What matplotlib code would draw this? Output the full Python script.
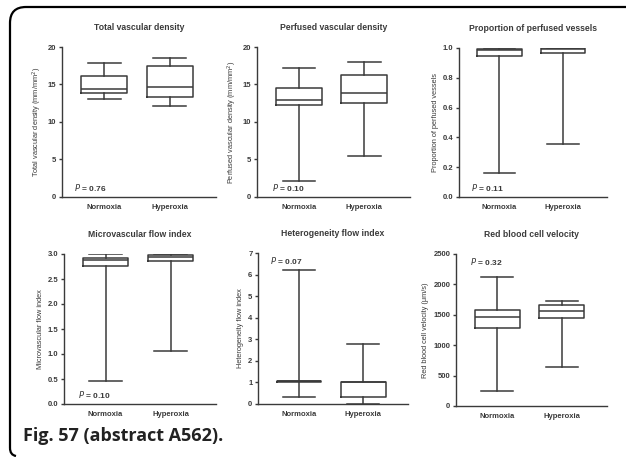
import matplotlib
matplotlib.use("Agg")
import matplotlib.pyplot as plt
from matplotlib.path import Path
from matplotlib.patches import PathPatch

W, H = 626, 457
groups = ["Normoxia", "Hyperoxia"]

# box stats per panel: (whislo, q1, med, q3, whishi) for Normoxia, Hyperoxia
tvd_norm = [13.1, 13.9, 14.4, 16.1, 17.8]
tvd_hyp = [12.15, 13.3, 14.6, 17.5, 18.5]
pvd_norm = [2.1, 12.3, 12.95, 14.5, 17.2]
pvd_hyp = [5.4, 12.5, 13.9, 16.2, 18.05]
ppv_norm = [0.16, 0.945, 0.985, 0.99, 1.0]
ppv_hyp = [0.355, 0.968, 0.99, 0.998, 1.0]
mfi_norm = [0.47, 2.76, 2.89, 2.93, 3.0]
mfi_hyp = [1.07, 2.87, 2.95, 2.99, 3.0]
hfi_norm = [0.31, 1.04, 1.05, 1.06, 6.2]
hfi_hyp = [0.0, 0.33, 1.0, 1.0, 2.8]
rbc_norm = [240, 1290, 1470, 1575, 2115]
rbc_hyp = [634, 1443, 1564, 1663, 1735]

titles = ["Total vascular density", "Perfused vascular density", "Proportion of perfused vessels",
          "Microvascular flow index", "Heterogeneity flow index", "Red blood cell velocity"]
ylabels = ["Total vascular density (mm/mm$^{2}$)", "Perfused vascular density (mm/mm$^{2}$)",
           "Proportion of perfused vessels", "Microvascular flow index",
           "Heterogeneity flow index", "Red blood cell velocity (\u03bcm/s)"]
pvals = ["0.76", "0.10", "0.11", "0.10", "0.07", "0.32"]
yticks = [[0, 5, 10, 15, 20], [0, 5, 10, 15, 20], [0.0, 0.2, 0.4, 0.6, 0.8, 1.0],
          [0.0, 0.5, 1.0, 1.5, 2.0, 2.5, 3.0], [0, 1, 2, 3, 4, 5, 6, 7],
          [0, 500, 1000, 1500, 2000, 2500]]
yticklabels = [["0", "5", "10", "15", "20"], ["0", "5", "10", "15", "20"],
               ["0.0", "0.2", "0.4", "0.6", "0.8", "1.0"],
               ["0.0", "0.5", "1.0", "1.5", "2.0", "2.5", "3.0"],
               ["0", "1", "2", "3", "4", "5", "6", "7"],
               ["0", "500", "1000", "1500", "2000", "2500"]]
stats = [(tvd_norm, tvd_hyp), (pvd_norm, pvd_hyp), (ppv_norm, ppv_hyp),
         (mfi_norm, mfi_hyp), (hfi_norm, hfi_hyp), (rbc_norm, rbc_hyp)]

# axes rectangles in pixels: left, right, top, bottom
rects = [(62, 216, 47, 197), (257, 410, 47, 197), (459, 607, 48, 197),
         (64, 216, 254, 404), (258, 408, 253, 404), (456, 607, 254, 406)]
# P label position (axes fraction) per panel
ppos = [(0.08, 0.04), (0.1, 0.04), (0.08, 0.04), (0.09, 0.04), (0.08, 0.93), (0.09, 0.93)]

col = "#3a3a3a"
plt.rcParams['font.family'] = ['Liberation Sans', 'DejaVu Sans']
fig = plt.figure(figsize=(W / 100, H / 100), dpi=100)

for i in range(6):
    l, r, t, b = rects[i]
    ax = fig.add_axes([l / W, 1 - b / H, (r - l) / W, (b - t) / H])
    bx = []
    for k, s in enumerate(stats[i]):
        bx.append(dict(whislo=s[0], q1=s[1], med=s[2], q3=s[3], whishi=s[4], fliers=[], label=groups[k]))
    lp = dict(color=col, linewidth=1.1)
    ax.bxp(bx, positions=[1, 2], widths=0.7, showfliers=False,
           boxprops=lp, whiskerprops=lp, capprops=lp, medianprops=lp,
           capwidths=0.5)
    ax.set_xlim(0.36, 2.7)
    ax.set_ylim(yticks[i][0], yticks[i][-1])
    ax.set_yticks(yticks[i])
    ax.set_yticklabels(yticklabels[i], fontsize=5.5, fontweight='bold', color=col)
    ax.set_xticks([1, 2])
    ax.set_xticklabels(groups, fontsize=5.5, fontweight='bold', color=col)
    ax.tick_params(axis='x', length=0, pad=5)
    ax.tick_params(axis='y', length=2.5, width=1.0, color=col, pad=1.5)
    for sp in ['top', 'right']:
        ax.spines[sp].set_visible(False)
    for sp in ['left', 'bottom']:
        ax.spines[sp].set_color(col)
        ax.spines[sp].set_linewidth(1.0)
    ax.set_title(titles[i], fontsize=6.2, fontweight='bold', color=col, pad=12)
    ax.set_ylabel(ylabels[i], fontsize=5.3, color=col, labelpad=3)
    px, py = ppos[i]
    ax.text(px, py, "$\\bf{\\it{P}}$ = " + pvals[i], transform=ax.transAxes,
            fontsize=6, fontweight='bold', color=col)

# rounded frame on left and top
r0 = 16
verts = [(10 / W, 1 - 448 / H), (10 / W, 1 - (7 + r0) / H),
         (10 / W, 1 - 7 / H), ((10 + r0) / W, 1 - 7 / H),
         (1.0, 1 - 7 / H)]
codes = [Path.MOVETO, Path.LINETO, Path.CURVE3, Path.CURVE3, Path.LINETO]
fig.add_artist(PathPatch(Path(verts, codes), transform=fig.transFigure,
                         fill=False, lw=1.6, edgecolor='black'))
verts2 = [(10 / W, 1 - 448 / H), (10 / W, 1 - 455 / H), (16 / W, 1 - 456 / H)]
fig.add_artist(PathPatch(Path(verts2, [Path.MOVETO, Path.CURVE3, Path.CURVE3]),
                         transform=fig.transFigure, fill=False, lw=1.6, edgecolor='black'))

fig.text(23 / W, 1 - 441 / H, "Fig. 57 (abstract A562).", fontsize=13,
         fontweight='bold', family=['Open Sans', 'DejaVu Sans'], color='#222222')

fig.savefig("out.png", dpi=100)
